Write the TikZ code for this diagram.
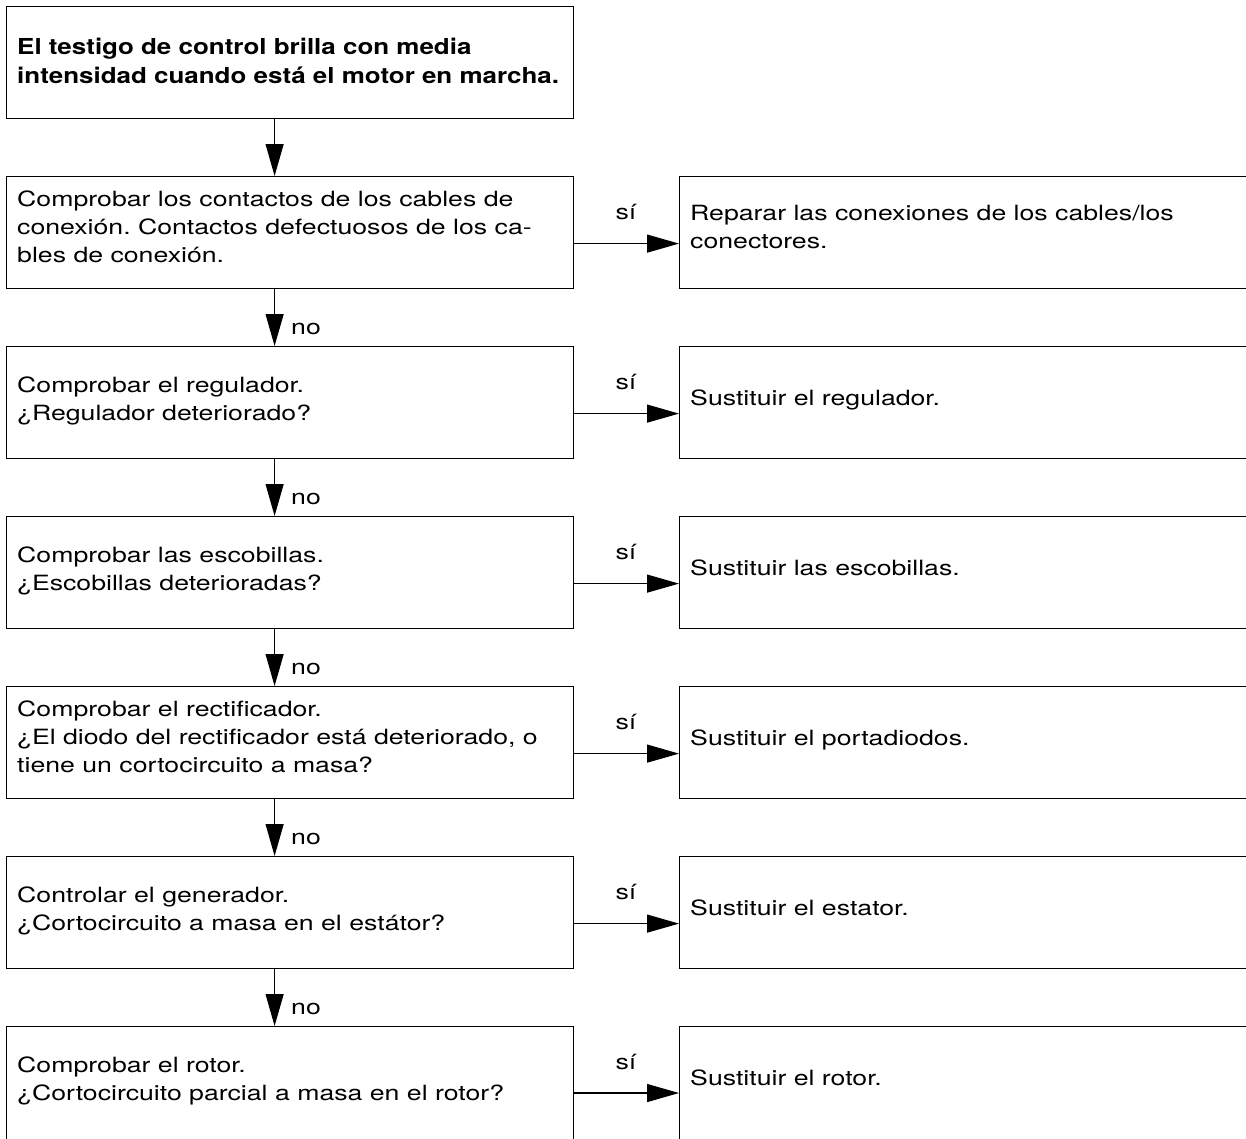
\documentclass[tikz,border=0pt]{standalone}
\usepackage{fontspec}
\setmainfont{TeX Gyre Heros}[FakeStretch=1.27]
\newfontfamily\titlefont{TeX Gyre Heros}[FakeStretch=1.18]
\usetikzlibrary{arrows.meta}
\frenchspacing
\tikzset{
  box/.style={draw, line width=1.2pt, rectangle, inner sep=0pt, minimum width=567pt, minimum height=112pt, anchor=north west},
  rbox/.style={draw, line width=1.2pt, rectangle, inner sep=0pt, minimum width=640pt, minimum height=112pt, anchor=north west},
  txt/.style={anchor=base west, inner sep=0pt, align=left, font=\fontsize{21}{28}\selectfont},
  ttl/.style={anchor=base west, inner sep=0pt, align=left, font=\titlefont\fontsize{22}{29}\selectfont\bfseries},
  lbl/.style={inner sep=0pt, font=\fontsize{21}{28}\selectfont},
  arr/.style={line width=1.2pt, -{Triangle[length=32pt, width=18pt]}},
}
\begin{document}
\begin{tikzpicture}[x=1pt, y=-1pt]
\useasboundingbox (0,0) rectangle (1246,1138);
\clip (0,0) rectangle (1246,1138);
\fill[white] (0,0) rectangle (1246,1138);
% title
\node[box] (b1) at (6,6) {};
\node[ttl] (t1) at (17,83) {El testigo de control brilla con media\\intensidad cuando está el motor en marcha.};
% rows
\node[box] (b2) at (6,176) {};
\node[rbox] (r2) at (679,176) {};
\node[box] (b3) at (6,346) {};
\node[rbox] (r3) at (679,346) {};
\node[box] (b4) at (6,516) {};
\node[rbox] (r4) at (679,516) {};
\node[box] (b5) at (6,686) {};
\node[rbox] (r5) at (679,686) {};
\node[box] (b6) at (6,856) {};
\node[rbox] (r6) at (679,856) {};
\node[box, minimum height=140pt] (b7) at (6,1026) {};
\node[rbox, minimum height=140pt] (r7) at (679,1026) {};
% texts (anchored at the baseline of the last line)
\node[txt] (tl2) at (17,262) {Comprobar los contactos de los cables de\\conexión. Contactos defectuosos de los ca-\\bles de conexión.};
\node[txt] (tr2) at (690,248) {Reparar las conexiones de los cables/los\\conectores.};
\node[txt] (tl3) at (17,420) {Comprobar el regulador.\\¿Regulador deteriorado?};
\node[txt] (tr3) at (690,405) {Sustituir el regulador.};
\node[txt] (tl4) at (17,590) {Comprobar las escobillas.\\¿Escobillas deterioradas?};
\node[txt] (tr4) at (690,575) {Sustituir las escobillas.};
\node[txt] (tl5) at (17,772) {Comprobar el rectificador.\\¿El diodo del rectificador está deteriorado, o\\tiene un cortocircuito a masa?};
\node[txt] (tr5) at (690,745) {Sustituir el portadiodos.};
\node[txt] (tl6) at (17,930) {Controlar el generador.\\¿Cortocircuito a masa en el estátor?};
\node[txt] (tr6) at (690,915) {Sustituir el estator.};
\node[txt] (tl7) at (17,1100) {Comprobar el rotor.\\¿Cortocircuito parcial a masa en el rotor?};
\node[txt] (tr7) at (690,1085) {Sustituir el rotor.};
% vertical arrows
\foreach \a/\b in {b1/b2, b2/b3, b3/b4, b4/b5, b5/b6, b6/b7} {
  \draw[arr] ([xshift=-15.5pt]\a.south) -- ([xshift=-15.5pt]\b.north);
}
% no labels
\node[lbl] (n3) at (306,329) {no};
\node[lbl] (n4) at (306,499) {no};
\node[lbl] (n5) at (306,669) {no};
\node[lbl] (n6) at (306,839) {no};
\node[lbl] (n7) at (306,1009) {no};
% horizontal arrows
\foreach \i in {2,...,6} {
  \draw[arr] ([yshift=-11pt]b\i.east) -- ([yshift=-11pt]r\i.west);
}
\coordinate (c7) at ([yshift=-67pt]b7.north east);
\draw[arr] (c7) -- (c7 -| r7.west);
% si labels
\node[lbl] (s2) at (626,212) {sí};
\node[lbl] (s3) at (626,382) {sí};
\node[lbl] (s4) at (626,552) {sí};
\node[lbl] (s5) at (626,722) {sí};
\node[lbl] (s6) at (626,892) {sí};
\node[lbl] (s7) at (626,1062) {sí};
\end{tikzpicture}
\end{document}
